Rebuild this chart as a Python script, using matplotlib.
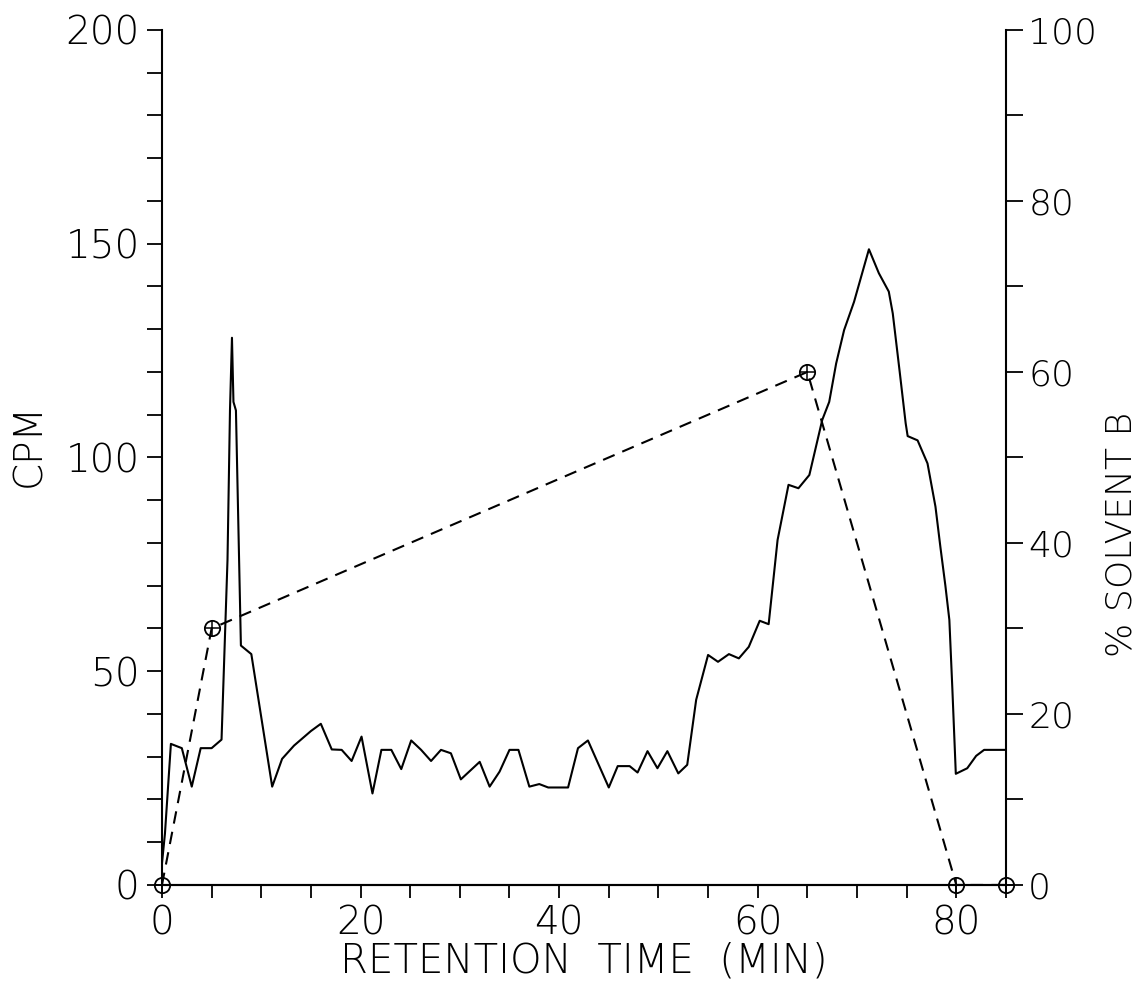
import matplotlib
matplotlib.use("Agg")
import matplotlib.pyplot as plt

# radioactivity trace (CPM vs retention time, min)
time = [0.0, 0.3, 0.9, 2.0, 3.0, 3.9, 5.0, 6.0, 6.6, 6.85, 7.05, 7.2, 7.45,
        7.95, 9.0, 11.1, 12.1, 13.3, 15.0, 16.0, 17.1, 18.1, 19.1, 20.1,
        21.2, 22.1, 23.1, 24.1, 25.1, 26.1, 27.1, 28.1, 29.1, 30.1, 32.0,
        33.0, 34.0, 35.0, 35.9, 37.0, 38.0, 38.9, 40.9, 41.9, 42.9, 45.0,
        45.9, 47.1, 47.9, 48.9, 49.9, 50.9, 52.0, 52.9, 53.8, 54.6, 55.0,
        56.0, 57.1, 58.1, 59.1, 60.2, 61.1, 62.0, 63.1, 64.1, 65.2, 66.5,
        67.2, 67.9, 68.7, 69.7, 71.2, 72.2, 73.2, 73.6, 74.3, 74.9, 75.1,
        76.1, 77.1, 77.9, 78.4, 78.9, 79.3, 79.6, 79.95, 81.1, 82.0, 82.8,
        85.0]
cpm = [5, 12, 33, 32, 23, 32, 32, 34, 76, 111, 128, 113, 111,
       56, 54, 23, 29.5, 32.6, 36, 37.7, 31.7, 31.6, 29, 34.7,
       21.4, 31.6, 31.6, 27.1, 33.8, 31.6, 29, 31.6, 30.8, 24.7, 28.8,
       23, 26.5, 31.6, 31.6, 23, 23.6, 22.8, 22.8, 32, 33.8, 22.8,
       27.8, 27.8, 26.3, 31.3, 27.3, 31.3, 26.1, 28.1, 43.3, 50.3, 53.8,
       52.2, 54, 53, 55.7, 61.8, 61, 80.7, 93.6, 92.8, 95.9, 108.8,
       113, 122, 129.8, 136.4, 148.7, 143.1, 138.8, 133.7, 120, 108, 105,
       104, 98.6, 88.5, 79, 70, 62, 46, 26, 27.3, 30.2, 31.6,
       31.6]

# gradient programme (% solvent B)
grad_time = [0, 5, 65, 80, 85]
grad_pct = [0, 30, 60, 0, 0]

x_major = [0, 20, 40, 60, 80]
cpm_major = [0, 50, 100, 150, 200]
pct_major = [0, 20, 40, 60, 80, 100]

plt.rcParams["font.family"] = ["DejaVu Sans Condensed", "DejaVu Sans"]
plt.rcParams["font.weight"] = "light"
plt.rcParams["axes.labelweight"] = "light"

fig = plt.figure(figsize=(11.43, 9.89), dpi=100)
ax = fig.add_axes([0.1417, 0.1052, 0.7384, 0.8645])
ax2 = ax.twinx()

ax.plot(time, cpm, color="black", lw=1.5, zorder=3)

ax2.plot(grad_time, grad_pct, color="black", lw=1.5, dashes=(6, 4), zorder=2)
ax2.plot(grad_time, grad_pct, ls="none", marker="o", ms=11, mfc="none",
         mec="black", mew=1.3, clip_on=False, zorder=4)
ax2.plot(grad_time, grad_pct, ls="none", marker="+", ms=11, mec="black",
         mew=1.1, clip_on=False, zorder=4)

ax.set_xlim(0, 85)
ax.set_ylim(0, 200)
ax2.set_ylim(0, 100)

for a in (ax, ax2):
    a.spines["top"].set_visible(False)
    for s in a.spines.values():
        s.set_linewidth(1.5)
ax2.spines["left"].set_visible(False)
ax.spines["right"].set_visible(False)

ax.set_xticks(x_major)
ax.set_xticks(range(0, 86, 5), minor=True)
ax.set_yticks(cpm_major)
ax.set_yticks(range(0, 201, 10), minor=True)
ax2.set_yticks(pct_major)
ax2.set_yticks(range(0, 101, 10), minor=True)

ax.tick_params(axis="both", which="both", direction="out", width=1.3,
               labelsize=28, pad=5)
ax.tick_params(axis="x", which="both", length=9)
ax.tick_params(axis="y", which="both", length=11)
ax2.tick_params(axis="y", which="both", direction="out", length=12,
                width=1.3, labelsize=26, pad=4)

ax.set_xlabel("RETENTION  TIME  (MIN)", fontsize=29, labelpad=-1)
ax.set_ylabel("CPM", fontsize=28)
ax.yaxis.set_label_coords(-0.135, 0.515)
ax2.set_ylabel("% SOLVENT B", fontsize=26, rotation=90)
ax2.yaxis.set_label_coords(1.117, 0.41)

fig.savefig("out.png", dpi=100, facecolor="white")
